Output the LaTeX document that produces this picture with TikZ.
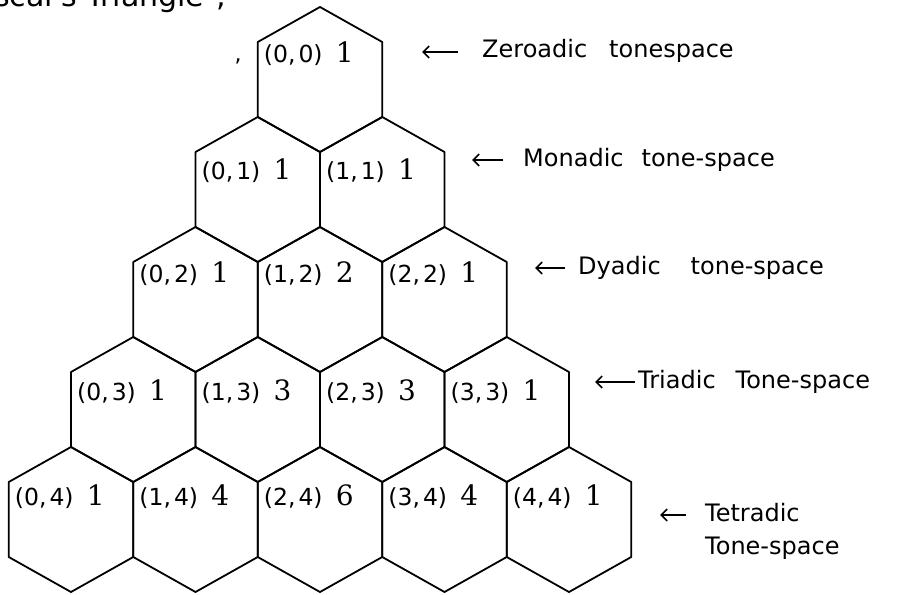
\documentclass[tikz,border=0pt]{standalone}
\usepackage{fontspec}
\newfontfamily\hand{DejaVu Sans}
\newfontfamily\coeffont{DejaVu Serif}
\usetikzlibrary{arrows.meta}
\begin{document}
\begin{tikzpicture}[x=1pt,y=-1pt,
  hex/.style={draw=black, line width=1.8pt, line join=round},
  cell/.style={anchor=base west, inner sep=0pt},
  rowlab/.style={anchor=west, inner sep=0pt, font=\hand\fontsize{24}{24}\selectfont, text height=17pt, text depth=5pt},
  ptr/.style={line width=1.6pt, -{Straight Barb[length=6pt,width=12pt]}},
]
\useasboundingbox (0,0) rectangle (904,594);

% title, cut off at the top edge
\begin{scope}
  \clip (0,0) rectangle (904,594);
  \node[anchor=base east, inner sep=0pt, font=\hand\fontsize{30}{30}\selectfont] (title) at (226,7) {Pascal's Triangle\hspace{12pt},};
\end{scope}

% hexagons
\foreach \rr in {0,...,4} {
  \foreach \kk in {0,...,\rr} {
    \pgfmathsetmacro\cx{320+(\kk-\rr/2)*124.5}
    \pgfmathsetmacro\tp{7+110*\rr}
    \draw[hex] (\cx,\tp) -- ++(62.25,35) -- ++(0,75) -- ++(-62.25,35) -- ++(-62.25,-35) -- ++(0,-75) -- cycle;
  }
}

% cell labels
\foreach \rr/\kk/\cf in {0/0/1, 1/0/1, 1/1/1, 2/0/1, 2/1/2, 2/2/1, 3/0/1, 3/1/3, 3/2/3, 3/3/1, 4/0/1, 4/1/4, 4/2/6, 4/3/4, 4/4/1} {
  \pgfmathsetmacro\lx{320+(\kk-\rr/2)*124.5-62.25+6}
  \pgfmathsetmacro\by{7+110*\rr+35+{21,27,20,28,23}[\rr]}
  \node[cell] (c-\rr-\kk) at (\lx,\by) {\makebox[72pt][l]{\hand\fontsize{23.5}{24}\selectfont(\kk,\hspace{3pt}\rr)}{\coeffont\fontsize{28}{28}\selectfont\cf}};
}

% stray comma
\node[inner sep=0pt, anchor=base, font=\hand\fontsize{22}{22}\selectfont] (comma) at (238,62) {,};

% row labels
\node[rowlab] (lab0) at (482,52) {Zeroadic\hspace{22pt}tonespace};
\coordinate (tip0) at (422,52);
\draw[ptr, shorten <=24pt] (lab0.west) -- (tip0);

\node[rowlab] (lab1) at (523,160) {Monadic\hspace{18pt}tone-space};
\coordinate (tip1) at (472,160);
\draw[ptr, shorten <=20pt] (lab1.west) -- (tip1);

\node[rowlab] (lab2) at (578,268) {Dyadic\hspace{30pt}tone-space};
\coordinate (tip2) at (535,268);
\draw[ptr, shorten <=13pt] (lab2.west) -- (tip2);

\node[rowlab] (lab3) at (638,382) {Triadic\hspace{20pt}Tone-space};
\coordinate (tip3) at (595,382);
\draw[ptr, shorten <=3pt] (lab3.west) -- (tip3);

\node[rowlab] (lab4) at (705,515) {Tetradic};
\node[rowlab] (lab4b) at (705,548) {Tone-space};
\coordinate (tip4) at (660,515);
\draw[ptr, shorten <=19pt] (lab4.west) -- (tip4);
\end{tikzpicture}
\end{document}
